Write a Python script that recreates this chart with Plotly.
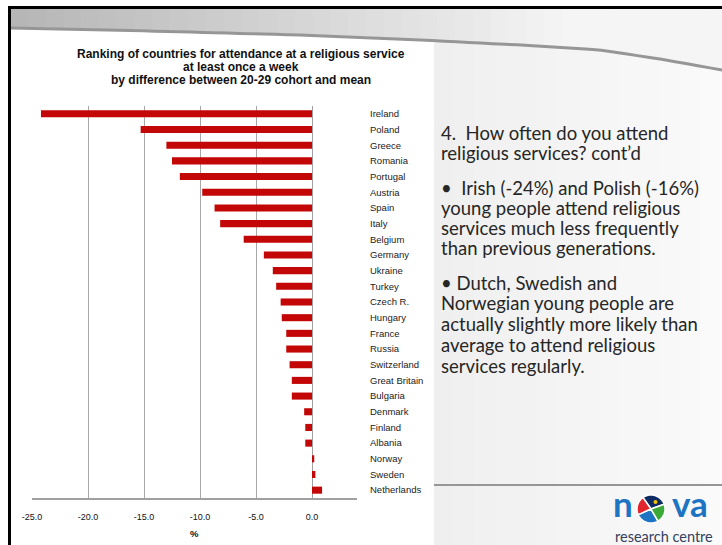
import numpy as np
import plotly.graph_objects as go

# Difference (percentage points) between 20-29 cohort and mean, weekly attendance
countries = ["Ireland", "Poland", "Greece", "Romania", "Portugal", "Austria", "Spain",
             "Italy", "Belgium", "Germany", "Ukraine", "Turkey", "Czech R.", "Hungary",
             "France", "Russia", "Switzerland", "Great Britain", "Bulgaria", "Denmark",
             "Finland", "Albania", "Norway", "Sweden", "Netherlands"]
diff = [-24.2, -15.3, -13.0, -12.5, -11.8, -9.8, -8.7, -8.2, -6.1, -4.3, -3.5, -3.2,
        -2.8, -2.7, -2.3, -2.3, -2.0, -1.8, -1.8, -0.7, -0.6, -0.6, 0.2, 0.3, 0.9]
tick_vals = [-25, -20, -15, -10, -5, 0]
tick_text = ["-25.0", "-20.0", "-15.0", "-10.0", "-5.0", "0.0"]

title_lines = [("Ranking of countries for attendance at a religious service", 54),
               ("at least once a week", 66.5),
               ("by difference between 20-29 cohort and mean", 80)]
side_lines = [
    ("4.  How often do you attend", 133),
    ("religious services? cont\u2019d", 153),
    ("\u2022  Irish (-24%) and Polish (-16%)", 188),
    ("young people attend religious", 208),
    ("services much less frequently", 228),
    ("than previous generations.", 248),
    ("\u2022 Dutch, Swedish and", 283),
    ("Norwegian young people are", 303),
    ("actually slightly more likely than", 324),
    ("average to attend religious", 345),
    ("services regularly.", 366),
]

W, H = 722, 545
L, R, T, B = 32, 365, 106, 47
PW, PH = W - L - R, H - T - B


def px(x):
    return (x - L) / PW


def py(y):
    return 1 - (y - T) / PH


def grey(v):
    v = int(round(v))
    return f"rgb({v},{v},{v})"


shapes = []

# right-hand panel background
n = 14
for i in range(n):
    x0 = 434 + (W - 434) * i / n
    x1 = 434 + (W - 434) * (i + 1) / n + 0.5
    shapes.append(dict(type="rect", xref="paper", yref="paper", layer="below",
                       x0=px(x0), x1=px(x1), y0=py(H), y1=py(30),
                       fillcolor=grey(239 + 11 * i / (n - 1)), line_width=0))
# white chart panel
shapes.append(dict(type="rect", xref="paper", yref="paper", layer="below",
                   x0=px(10), x1=px(434), y0=py(H), y1=py(30),
                   fillcolor="white", line_width=0))

# header swoosh
cx = np.array([10, 150, 300, 420, 520, 600, 660, 722])
cy = np.array([27, 30, 34, 39, 44, 49, 58, 69])


def curve(x):
    return float(np.interp(x, cx, cy))


n = 40
for i in range(n):
    x0 = 10 + (W - 10) * i / n
    x1 = 10 + (W - 10) * (i + 1) / n + 0.6
    t = i / (n - 1)
    g = 182 + (245 - 182) * min(1.0, t * 1.25)
    path = (f"M {px(x0)},{py(9)} L {px(x1)},{py(9)} "
            f"L {px(x1)},{py(curve(x1))} L {px(x0)},{py(curve(x0))} Z")
    shapes.append(dict(type="path", xref="paper", yref="paper", layer="below",
                       path=path, fillcolor=grey(g), line_width=0))
xs = np.linspace(10, W, 60)
edge = "M " + " L ".join(f"{px(x)},{py(curve(x) + 1)}" for x in xs)
shapes.append(dict(type="path", xref="paper", yref="paper", layer="below",
                   path=edge, line=dict(color="rgb(150,150,150)", width=3)))

# slide frame
shapes.append(dict(type="line", xref="paper", yref="paper",
                   x0=px(8), x1=px(W), y0=py(7.5), y1=py(7.5),
                   line=dict(color="black", width=3)))
shapes.append(dict(type="line", xref="paper", yref="paper",
                   x0=px(9.5), x1=px(9.5), y0=py(7), y1=py(H),
                   line=dict(color="black", width=3)))

# separator above the logo
shapes.append(dict(type="line", xref="paper", yref="paper",
                   x0=px(434), x1=px(W), y0=py(485), y1=py(485),
                   line=dict(color="rgb(150,150,150)", width=2)))

# logo pie mark
pcx, pcy, pr = 651, 509, 14
wedges = [(20, 125, "#0f2b63"), (125, 205, "#e1262d"),
          (205, 300, "#1d74c2"), (300, 380, "#3aa935")]
for a0, a1, col in wedges:
    angs = np.radians(np.linspace(a0, a1, 24))
    pts = [(pcx + pr * np.cos(a), pcy - pr * np.sin(a)) for a in angs]
    path = f"M {px(pcx)},{py(pcy)} " + " ".join(f"L {px(x)},{py(y)}" for x, y in pts) + " Z"
    shapes.append(dict(type="path", xref="paper", yref="paper",
                       path=path, fillcolor=col, line=dict(color="white", width=1.5)))
shapes.append(dict(type="circle", xref="paper", yref="paper",
                   x0=px(653.5), x1=px(657.5), y0=py(504), y1=py(500),
                   fillcolor="#f5c400", line_width=0))

fig = go.Figure()
fig.add_trace(go.Bar(
    x=diff, y=countries, orientation="h", width=0.45,
    marker=dict(color="#c30606", line_width=0),
    hoverinfo="skip",
))

annotations = []
for s, y in title_lines:
    annotations.append(dict(
        xref="paper", yref="paper", x=px(241), y=py(y), xanchor="center", yanchor="middle",
        text=f"<b>{s}</b>", showarrow=False,
        font=dict(family="Liberation Sans", size=12, color="#111111")))
annotations.append(dict(
    xref="paper", yref="paper", x=px(194), y=py(533), xanchor="center", yanchor="middle",
    text="<b>%</b>", showarrow=False,
    font=dict(family="Liberation Sans", size=9.5, color="#111111")))
for s, y in side_lines:
    annotations.append(dict(
        xref="paper", yref="paper", x=px(439), y=py(y), xanchor="left", yanchor="middle",
        text=s, showarrow=False,
        font=dict(family="Lato", size=18.5, color="#262626")))
# logo lettering
annotations.append(dict(
    xref="paper", yref="paper", x=px(623), y=py(525.5), xanchor="center", yanchor="bottom",
    text="<b>n</b>", showarrow=False,
    font=dict(family="Lato", size=35, color="#1d74c2")))
annotations.append(dict(
    xref="paper", yref="paper", x=px(690), y=py(525.5), xanchor="center", yanchor="bottom",
    text="<b>va</b>", showarrow=False,
    font=dict(family="Lato", size=35, color="#1d74c2")))
annotations.append(dict(
    xref="paper", yref="paper", x=px(664), y=py(525.5), xanchor="center", yanchor="top",
    text="research centre", showarrow=False,
    font=dict(family="Lato", size=14.5, color="#34405e")))

fig.update_layout(
    width=W, height=H,
    margin=dict(l=L, r=R, t=T, b=B, pad=0),
    paper_bgcolor="white", plot_bgcolor="rgba(0,0,0,0)",
    showlegend=False, bargap=0.55,
    shapes=shapes, annotations=annotations,
    xaxis=dict(range=[-25, -25 + PW / 11.2], tickvals=tick_vals, ticktext=tick_text,
               showgrid=True, gridcolor="#a8a8a8", gridwidth=1,
               zeroline=True, zerolinecolor="#a0a0a0", zerolinewidth=1,
               showline=True, linecolor="#a0a0a0", linewidth=1.5,
               ticks="", ticklabelstandoff=9,
               tickfont=dict(family="Liberation Sans", size=9, color="#111111"),
               fixedrange=True),
    yaxis=dict(categoryorder="array", categoryarray=countries[::-1],
               side="right", showgrid=False, showline=False, ticks="",
               ticklabelstandoff=12,
               tickfont=dict(family="Liberation Sans", size=9.5, color="#222222"),
               fixedrange=True),
)

fig.write_html("out.html", config={"displayModeBar": False})
